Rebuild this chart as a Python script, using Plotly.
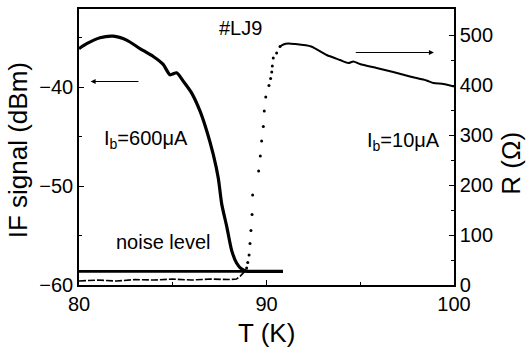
import plotly.graph_objects as go

# IF signal (left axis, dBm) at I_b = 600 uA
if_T = [80.0, 80.41, 81.12, 81.83, 82.54, 83.25, 83.96, 84.49, 84.85, 85.21, 85.56,
        86.01, 86.45, 86.81, 87.16, 87.43, 87.61, 87.88, 88.14, 88.41, 88.68, 88.94, 89.5, 90.88]
if_dBm = [-36.1, -35.6, -35.0, -34.85, -35.25, -36.1, -36.9, -37.7, -38.75, -38.55, -39.4,
          -40.6, -42.4, -44.4, -46.8, -49.2, -51.8, -54.1, -56.5, -57.8, -58.4, -58.6, -58.62, -58.62]

# noise level line
noise_T = [80.0, 90.88]
noise_dBm = [-58.62, -58.62]

# dashed curve (noise floor trace)
dash_T = [80.0, 81.0, 82.0, 83.0, 84.0, 85.0, 86.0, 87.0, 88.0, 88.4, 88.6, 88.75, 88.85]
dash_dBm = [-59.6, -59.5, -59.6, -59.45, -59.5, -59.4, -59.5, -59.4, -59.45, -59.4, -59.1, -58.8, -58.6]

# resistance (right axis, Ohm) at I_b = 10 uA : sparse dots in the transition
r_dot_T = [88.94, 89.00, 89.07, 89.12, 89.17, 89.23, 89.26, 89.58, 89.67, 89.74, 89.83,
           89.88, 89.96, 90.13, 90.22, 90.28, 90.31, 90.36, 90.54, 90.72]
r_dot_R = [34, 45, 60, 83, 109, 141, 180, 228, 258, 288, 317,
           348, 376, 399, 413, 426, 438, 454, 464, 477]

# resistance above transition (dense)
r_line_T = [90.72, 90.9, 91.16, 91.5, 92.38, 93.21, 93.92, 94.37, 94.63, 94.98, 95.87,
            96.76, 97.65, 98.54, 98.9, 99.44, 100.0]
r_line_R = [477, 481, 483, 482, 477, 460, 450, 444, 447, 442, 434,
            426, 417, 409, 404, 402, 397]

x_ticks = [80, 90, 100]
y_ticks = [-60, -50, -40]
r_ticks = [0, 100, 200, 300, 400, 500]

FONT = "Liberation Sans, Arial, sans-serif"

fig = go.Figure()
fig.add_trace(go.Scatter(x=dash_T, y=dash_dBm, mode="lines",
                         line=dict(color="black", width=1.6, dash="7px,2px")))
fig.add_trace(go.Scatter(x=noise_T, y=noise_dBm, mode="lines",
                         line=dict(color="black", width=2.6)))
fig.add_trace(go.Scatter(x=if_T, y=if_dBm, mode="lines",
                         line=dict(color="black", width=3.2, shape="spline", smoothing=0.6)))
fig.add_trace(go.Scatter(x=r_dot_T, y=r_dot_R, mode="markers", yaxis="y2",
                         marker=dict(color="black", size=3)))
fig.add_trace(go.Scatter(x=r_line_T, y=r_line_R, mode="lines", yaxis="y2",
                         line=dict(color="black", width=2, shape="spline", smoothing=0.6)))

axis_common = dict(showline=True, linecolor="black", linewidth=1.5, ticks="inside",
                   ticklen=5, tickwidth=1.2, tickcolor="black", showgrid=False,
                   zeroline=False, tickfont=dict(family=FONT, size=20, color="black"))

fig.update_layout(
    width=527, height=353,
    margin=dict(l=79, r=73, t=7, b=68),
    paper_bgcolor="white", plot_bgcolor="white",
    showlegend=False,
    xaxis=dict(range=[80, 100], tickvals=x_ticks, mirror=True,
               minor=dict(dtick=5, tick0=80, ticks="inside", ticklen=3, tickcolor="black"),
               **axis_common),
    yaxis=dict(range=[-60, -32.1], tickvals=y_ticks,
               minor=dict(dtick=5, tick0=-60, ticks="inside", ticklen=3, tickcolor="black"),
               **axis_common),
    yaxis2=dict(range=[0, 552], tickvals=r_ticks, overlaying="y", side="right",
                minor=dict(dtick=50, tick0=0, ticks="inside", ticklen=3, tickcolor="black"),
                **axis_common),
)

lab = dict(family=FONT, size=20, color="black")
fig.add_annotation(x=88.59, y=-33.97, xref="x", yref="y", text="#LJ9",
                   showarrow=False, font=lab, xanchor="center", yanchor="middle")
fig.add_annotation(x=83.57, y=-45.3, xref="x", yref="y", text="I<sub>b</sub>=600μA",
                   showarrow=False, font=lab, xanchor="center", yanchor="middle")
fig.add_annotation(x=99.35, y=-45.5, xref="x", yref="y", text="I<sub>b</sub>=10μA",
                   showarrow=False, font=lab, xanchor="right", yanchor="middle")
fig.add_annotation(x=84.5, y=-55.7, xref="x", yref="y", text="noise level",
                   showarrow=False, font=lab, xanchor="center", yanchor="middle")

# arrows
fig.add_annotation(x=80.62, y=-39.43, ax=83.25, ay=-39.43, xref="x", yref="y",
                   axref="x", ayref="y", text="", showarrow=True, arrowhead=2,
                   arrowsize=1, arrowwidth=1, arrowcolor="black")
fig.add_annotation(x=98.93, y=465, ax=94.68, ay=465, xref="x", yref="y2",
                   axref="x", ayref="y2", text="", showarrow=True, arrowhead=2,
                   arrowsize=1, arrowwidth=1, arrowcolor="black")

# axis titles
tf = dict(family=FONT, size=26, color="black")
fig.add_annotation(x=-0.162, y=0.489, xref="paper", yref="paper", text="IF signal (dBm)",
                   textangle=-90, showarrow=False, font=tf, xanchor="center", yanchor="middle")
fig.add_annotation(x=0.501, y=-0.173, xref="paper", yref="paper", text="T (K)",
                   showarrow=False, font=tf, xanchor="center", yanchor="middle")
fig.add_annotation(x=1.153, y=0.441, xref="paper", yref="paper", text="R (Ω)",
                   textangle=-90, showarrow=False, font=tf, xanchor="center", yanchor="middle")

fig.write_html("out.html")
